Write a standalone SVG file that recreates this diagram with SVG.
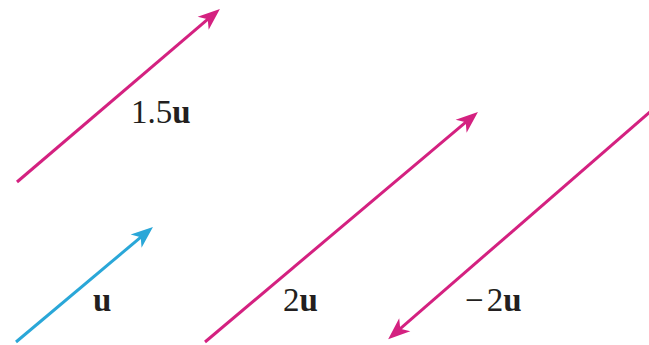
<svg xmlns="http://www.w3.org/2000/svg" width="649" height="345" viewBox="0 0 649 345">
<style>
.mag{stroke:#d42180;stroke-width:3;fill:none}
.cyan{stroke:#2aa7d8;stroke-width:3;fill:none}
text{font-family:"Liberation Serif","Times New Roman",serif;font-size:33px;fill:#231f20}
.b{font-weight:bold}
</style>
<defs>
<marker id="hm" markerUnits="userSpaceOnUse" markerWidth="30" markerHeight="30" refX="0" refY="0" orient="auto" overflow="visible">
<path d="M10,0 L-12,-8.5 L-6,0 L-12,8.5 Z" fill="#d42180"/>
</marker>
<marker id="hc" markerUnits="userSpaceOnUse" markerWidth="30" markerHeight="30" refX="0" refY="0" orient="auto" overflow="visible">
<path d="M10,0 L-12,-8.5 L-6,0 L-12,8.5 Z" fill="#2aa7d8"/>
</marker>
</defs>
<rect width="649" height="345" fill="#fff"/>
<g id="connectors">
<line id="v15u" class="mag" x1="17" y1="182" x2="212.3" y2="15.4" marker-end="url(#hm)"/>
<line id="vu" class="cyan" x1="16" y1="342" x2="145.3" y2="233.4" marker-end="url(#hc)"/>
<line id="v2u" class="mag" x1="205" y1="342" x2="470.3" y2="118.4" marker-end="url(#hm)"/>
<line id="vm2u" class="mag" x1="662" y1="101.5" x2="395.7" y2="332.6" marker-end="url(#hm)"/>
</g>
<g id="label-15u"><text x="131" y="123">1.5<tspan class="b">u</tspan></text></g>
<g id="label-u"><text x="93" y="311" class="b">u</text></g>
<g id="label-2u"><text x="283" y="311">2<tspan class="b">u</tspan></text></g>
<g id="label-m2u"><text x="465" y="311">−<tspan dx="3">2</tspan><tspan class="b">u</tspan></text></g>
</svg>
